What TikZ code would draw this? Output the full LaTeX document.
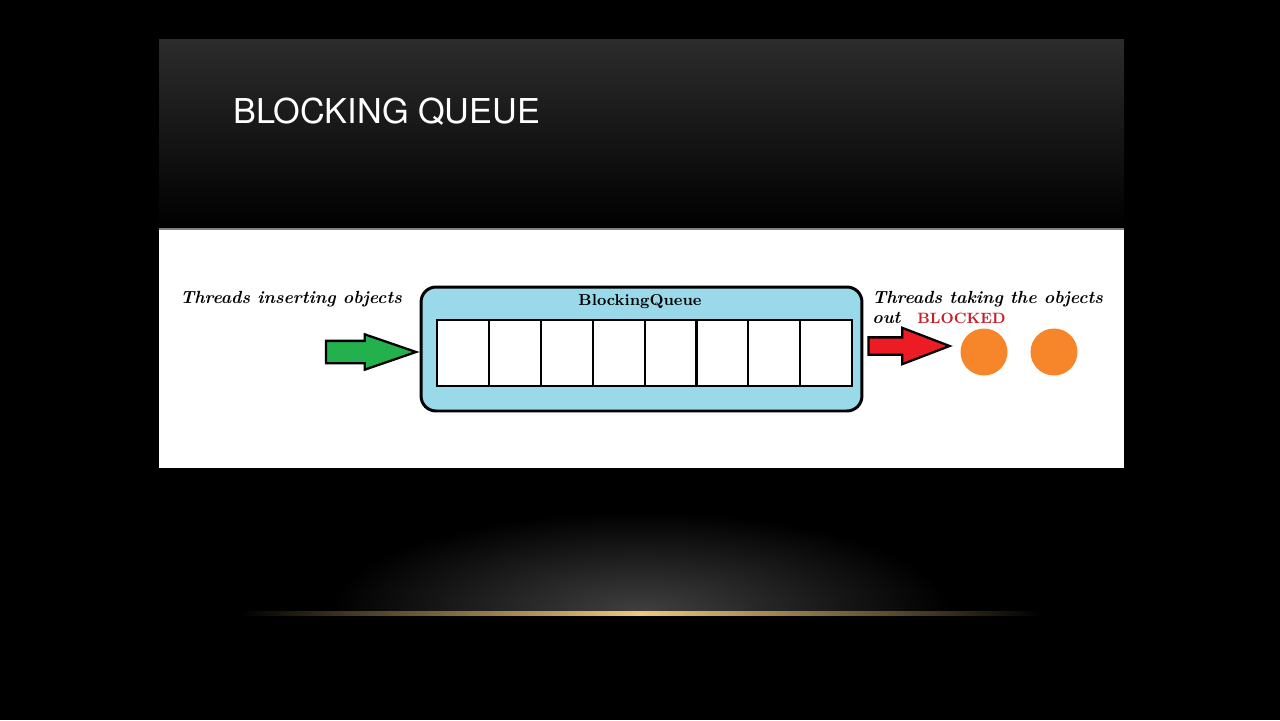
\documentclass[tikz,border=0pt]{standalone}
\usepackage{fontspec}
\usetikzlibrary{shapes.arrows, positioning}
\newfontfamily\titlefont{TeX Gyre Heros}
\definecolor{queueblue}{RGB}{153,217,234}
\definecolor{ingreen}{RGB}{34,177,76}
\definecolor{outred}{RGB}{237,28,36}
\definecolor{threadorange}{RGB}{247,134,42}
\definecolor{blockedred}{RGB}{200,30,40}
\definecolor{panelgray}{RGB}{44,44,44}
\definecolor{glowgold}{RGB}{240,200,120}

\begin{document}
\begin{tikzpicture}[x=0.02cm, y=-0.02cm,
    queuebox/.style={rectangle, draw, line width=1.7pt, rounded corners=0.3cm,
                     fill=queueblue, minimum width=8.82cm, minimum height=2.48cm},
    cell/.style={rectangle, draw, line width=1.2pt, fill=white,
                 minimum width=1.038cm, minimum height=1.32cm},
    fatarrow/.style={single arrow, draw, line width=1.3pt,
                     single arrow head indent=0pt},
    thread/.style={circle, fill=threadorange, minimum size=0.94cm, inner sep=0pt},
    handtext/.style={font=\fontsize{10}{12}\selectfont\bfseries\itshape,
                     inner sep=0pt, anchor=base west}
]
    \useasboundingbox (0,0) rectangle (1280,720);
    \fill[black] (0,0) rectangle (1280,720);
    \shade[top color=panelgray, bottom color=black] (159,39) rectangle (1124,228);
    \fill[gray] (159,228) rectangle (1124,230);
    \fill[white] (159,230) rectangle (1124,468);
    \begin{scope}
        \clip (200,480) rectangle (1080,612);
        \shade[inner color=gray!50!black, outer color=black] (640,612) ellipse (6.2cm and 2cm);
    \end{scope}
    \shade[left color=black, right color=black, middle color=glowgold] (240,611) rectangle (1040,615);

    \node[font=\titlefont\fontsize{19.5}{24}\selectfont, text=white, anchor=base west,
          inner sep=0pt] (title) at (233,123) {BLOCKING QUEUE};

    \node[queuebox] (queue) at (641.5,349) {};
    \node[font=\fontsize{9}{11}\selectfont\bfseries] (qname) at (640,302) {BlockingQueue};
    \foreach \i in {1,...,8}
        \node[cell] (cell\i) at ({437+51.9*(\i-0.5)},353) {};

    \node[fatarrow, fill=ingreen, minimum height=1.8cm, inner sep=0.2cm,
          single arrow head extend=0.13cm, single arrow tip angle=38,
          anchor=tip] (inarrow) at ([yshift=-0.06cm]queue.west) {};
    \node[fatarrow, fill=outred, minimum height=1.62cm, inner sep=0.15cm,
          single arrow head extend=0.19cm, single arrow tip angle=42,
          anchor=tail] (outarrow) at ([xshift=0.08cm, yshift=0.06cm]queue.east) {};

    \node[thread] (thread1) at (984,352) {};
    \node[thread] (thread2) at (1054,352) {};

    \node[handtext] (inlabel) at (180,303) {Threads inserting objects};
    \node[handtext] (outlabel) at (872,303) {Threads taking the objects};
    \node[handtext] (outword) at (872,323) {out};
    \node[font=\fontsize{8.5}{10}\selectfont\bfseries, text=blockedred, inner sep=0pt,
          anchor=base west] (blocked) at (917,323) {BLOCKED};
\end{tikzpicture}
\end{document}
